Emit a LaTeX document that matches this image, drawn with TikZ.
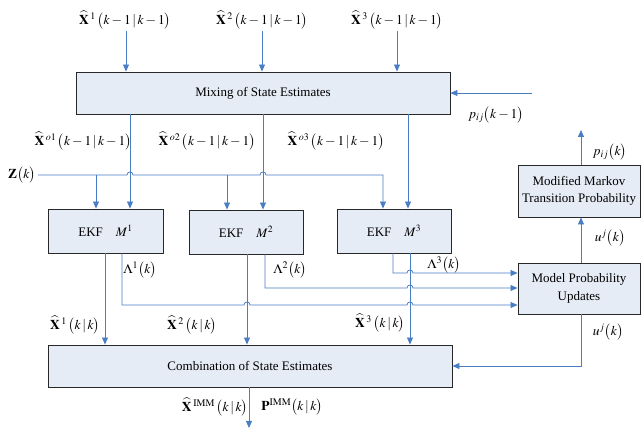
\documentclass[tikz,border=0pt]{standalone}
\usepackage{mathptmx}
\usepackage[no-math]{fontspec}
\setmainfont{Liberation Serif}
\usetikzlibrary{arrows.meta}
\definecolor{boxfill}{RGB}{230,236,246}
\definecolor{lnc}{RGB}{74,126,196}
\definecolor{bordc}{RGB}{40,40,40}
\newcommand{\Xh}[1]{{\widehat{\mathbf{X}}}^{\mkern3mu#1}\mkern2mu}
\newcommand{\cnd}[2]{\bigl(#1\,|\,#2\bigr)}
\newcommand{\ofk}{\bigl(k\bigr)}
\begin{document}
\begin{tikzpicture}[x=1pt,y=-1pt,
  box/.style={draw=bordc, fill=boxfill, line width=0.9pt, inner sep=0pt, align=center,
    font=\fontsize{13}{17.5}\selectfont},
  lab/.style={inner sep=0pt, font=\fontsize{13.5}{15}\selectfont},
  link/.style={draw=lnc, line width=0.8pt},
  arr/.style={link, -{Triangle[width=6pt,length=7pt]}}]
\useasboundingbox (0,0) rectangle (641,430);
% boxes
\node[box, minimum width=374pt, minimum height=42pt] (mix) at (263,93) {Mixing of State Estimates};
\node[box, minimum width=115pt, minimum height=44pt] (ekf1) at (105.5,231) {EKF\quad$M^{1}$};
\node[box, minimum width=114pt, minimum height=44pt] (ekf2) at (246,232) {EKF\quad$M^{2}$};
\node[box, minimum width=114pt, minimum height=44pt] (ekf3) at (394,231) {EKF\quad$M^{3}$};
\node[box, minimum width=404pt, minimum height=42pt] (comb) at (250,366) {Combination of State Estimates};
\node[box, minimum width=122pt, minimum height=51pt] (mpu) at (579,288.5) {Model Probability\\Updates};
\node[box, minimum width=122pt, minimum height=52pt] (mmt) at (579,191) {Modified Markov\\Transition Probability};
% columns and rows
\coordinate (m1) at (130,0); \coordinate (m2) at (263,0); \coordinate (m3) at (408,0);
\coordinate (z1) at (96,0);  \coordinate (z2) at (227,0); \coordinate (z3) at (383,0);
\coordinate (o1) at (105,0); \coordinate (o2) at (247,0); \coordinate (o3) at (410,0);
\coordinate (l1) at (122,0); \coordinate (l2) at (265,0); \coordinate (l3) at (393,0);
\coordinate (r1) at (0,305); \coordinate (r2) at (0,288); \coordinate (r3) at (0,273);
\coordinate (mc) at (581,0);
% free ends
\coordinate (in1) at (126,31); \coordinate (in2) at (262,31); \coordinate (in3) at (397,31);
\coordinate (pin) at (532,93);
\coordinate (zin) at (38,175);
\coordinate (pout) at (581,130);
\coordinate (out) at (249,428);
% inputs to mixing
\draw[arr] (in1) -- (in1 |- mix.north);
\draw[arr] (in2) -- (in2 |- mix.north);
\draw[arr] (in3) -- (in3 |- mix.north);
\draw[arr] (pin) -- (mix.east);
% mixing to EKFs
\draw[arr] (mix.south -| m1) -- (ekf1.north -| m1);
\draw[arr] (mix.south -| m2) -- (ekf2.north -| m2);
\draw[arr] (mix.south -| m3) -- (ekf3.north -| m3);
% Z line
\draw[arr] (zin) -- (127,175) .. controls (127,171) and (133,171) .. (133,175)
  -- (260,175) .. controls (260,171) and (266,171) .. (266,175) -| (ekf3.north -| z3);
\draw[arr] (z1 |- zin) -- (ekf1.north -| z1);
\draw[arr] (z2 |- zin) -- (ekf2.north -| z2);
% EKF state outputs
\draw[arr] (ekf1.south -| o1) -- (comb.north -| o1);
\draw[arr] (ekf2.south -| o2) -- (comb.north -| o2);
\draw[arr] (ekf3.south -| o3) -- (comb.north -| o3);
% likelihoods
\draw[arr] (ekf1.south -| l1) |- (244,305) .. controls (244,301) and (250,301) .. (250,305)
  -- (407,305) .. controls (407,301) and (413,301) .. (413,305) -- (mpu.west |- r1);
\draw[arr] (ekf2.south -| l2) |- (407,288) .. controls (407,284) and (413,284) .. (413,288)
  -- (mpu.west |- r2);
\draw[arr] (ekf3.south -| l3) |- (407,273) .. controls (407,269) and (413,269) .. (413,273)
  -- (mpu.west |- r3);
% model probability
\draw[arr] (mpu.north -| mc) -- (mmt.south -| mc);
\draw[arr] (mmt.north -| mc) -- (pout);
\draw[arr] (mpu.south -| mc) |- (comb.east);
\draw[arr] (comb.south -| out) -- (out);
% labels
\node[lab] (lx1) at (125,20) {$\Xh{1}\cnd{k-1}{k-1}$};
\node[lab] (lx2) at (262,20) {$\Xh{2}\cnd{k-1}{k-1}$};
\node[lab] (lx3) at (397,20) {$\Xh{3}\cnd{k-1}{k-1}$};
\node[lab] (lp) at (496,115) {$p_{ij}\bigl(k-1\bigr)$};
\node[lab] (lo1) at (83,141) {$\Xh{o1}\cnd{k-1}{k-1}$};
\node[lab] (lo2) at (207,141) {$\Xh{o2}\cnd{k-1}{k-1}$};
\node[lab] (lo3) at (336,141) {$\Xh{o3}\cnd{k-1}{k-1}$};
\node[lab] (lz) at (22,175) {$\mathbf{Z}\ofk$};
\node[lab] (ll1) at (140,270) {$\Lambda^{1}\ofk$};
\node[lab] (ll2) at (290,270) {$\Lambda^{2}\ofk$};
\node[lab] (ll3) at (444,265) {$\Lambda^{3}\ofk$};
\node[lab] (lxk1) at (75,325) {$\Xh{1}\cnd{k}{k}$};
\node[lab] (lxk2) at (192,325) {$\Xh{2}\cnd{k}{k}$};
\node[lab] (lxk3) at (380,323) {$\Xh{3}\cnd{k}{k}$};
\node[lab] (lpk) at (610,152) {$p_{ij}\ofk$};
\node[lab] (lu1) at (610,238) {$u^{j}\ofk$};
\node[lab] (lu2) at (608,332) {$u^{j}\ofk$};
\node[lab] (limm) at (215,407) {$\Xh{\mathrm{IMM}}\cnd{k}{k}$};
\node[lab] (lpimm) at (292,407) {$\mathbf{P}^{\mathrm{IMM}}\cnd{k}{k}$};
\end{tikzpicture}
\end{document}
